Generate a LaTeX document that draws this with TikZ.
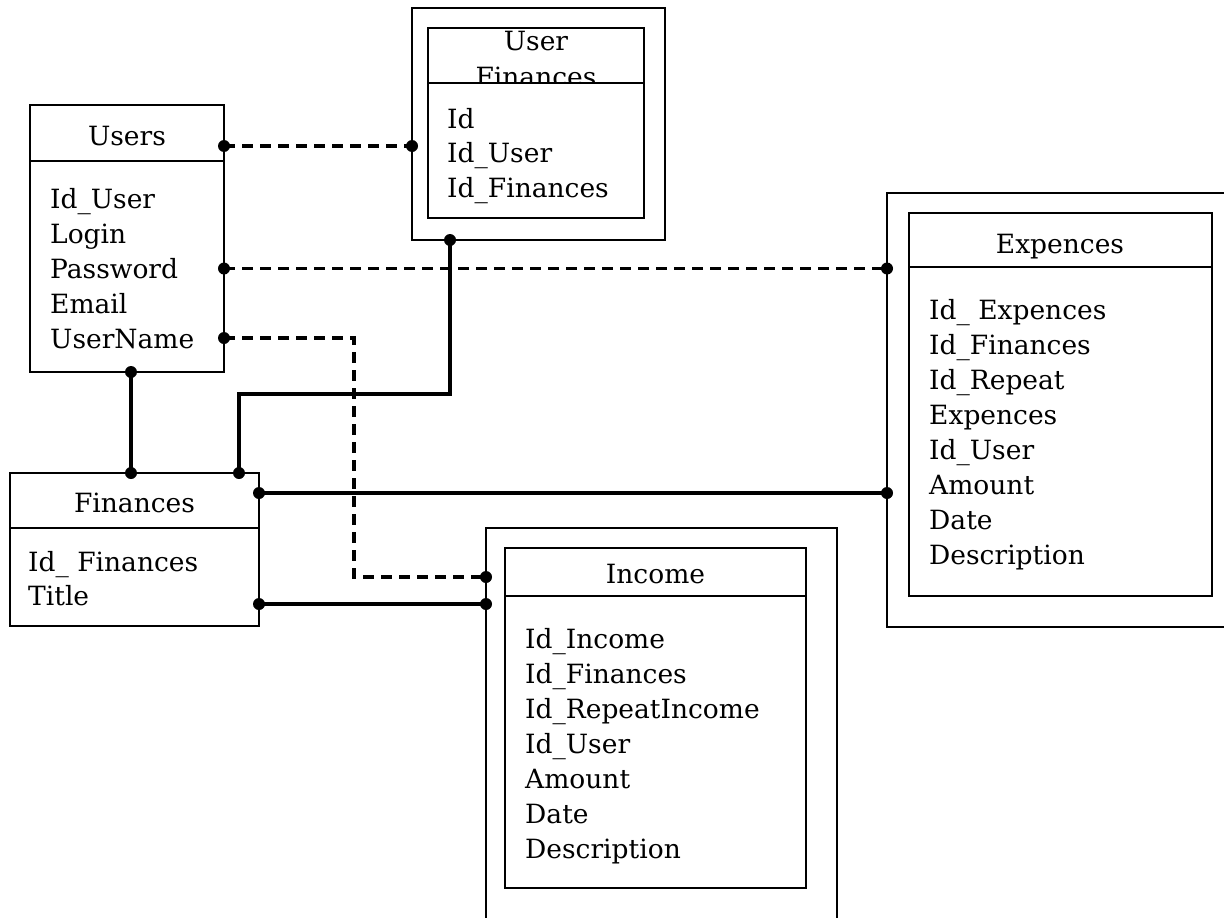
\documentclass[tikz,border=0pt]{standalone}
\usepackage{fontspec}
\setmainfont{DejaVu Serif}
\usetikzlibrary{calc}
\newcommand\fsz{\fontsize{26.5}{35}\selectfont}
\tikzset{
  x=1pt, y=-1pt,
  box/.style={draw, line width=1.4pt, inner sep=0pt, outer sep=0pt, anchor=north west},
  rule/.style={line width=1.4pt},
  fld/.style={anchor=base west, inner sep=0pt, font=\fsz},
  ttl/.style={anchor=base, inner sep=0pt, font=\fsz},
  conn/.style={line width=3.1pt},
  dconn/.style={line width=3.2pt, dash pattern=on 11pt off 7pt},
  dotc/.style={fill=black},
}
\begin{document}
\begin{tikzpicture}
\useasboundingbox (0,0) rectangle (1224,918);
\clip (0,0) rectangle (1224,918);

% ---------- Users ----------
\node[box, minimum width=194pt, minimum height=267pt] (users) at (30,105) {};
\draw[rule] (users.west |- 0,161) -- (users.east |- 0,161);
\node[ttl] (usersT) at (127,145) {Users};
\foreach \t [count=\i] in {Id\_User, Login, Password, Email, UserName}
  \node[fld] (usersF\i) at (50,{208+35*(\i-1)}) {\t};

% ---------- User Finances ----------
\node[box, minimum width=253pt, minimum height=232pt] (ufo) at (412,8) {};
\node[box, minimum width=216pt, minimum height=190pt] (uf) at (428,28) {};
\draw[rule] (uf.west |- 0,83) -- (uf.east |- 0,83);
\begin{scope}
  \clip (428,28) rectangle (644,82.4);
  \node[ttl] (ufT1) at (536,50) {User};
  \node[ttl] (ufT2) at (536,86) {Finances};
\end{scope}
\foreach \t [count=\i] in {Id, Id\_User, Id\_Finances}
  \node[fld] (ufF\i) at (447,{128+34.5*(\i-1)}) {\t};

% ---------- Finances ----------
\node[box, minimum width=249pt, minimum height=153pt] (fin) at (10,473) {};
\draw[rule] (fin.west |- 0,528) -- (fin.east |- 0,528);
\node[ttl] (finT) at (134.5,512) {Finances};
\foreach \t [count=\i] in {Id\_ Finances, Title}
  \node[fld] (finF\i) at (28,{571+34*(\i-1)}) {\t};

% ---------- Expences ----------
\node[box, minimum width=360pt, minimum height=434pt] (expo) at (887,193) {};
\node[box, minimum width=303pt, minimum height=383pt] (exp) at (909,213) {};
\draw[rule] (exp.west |- 0,267) -- (exp.east |- 0,267);
\node[ttl] (expT) at (1060,253) {Expences};
\foreach \t [count=\i] in {Id\_ Expences, Id\_Finances, Id\_Repeat, Expences, Id\_User, Amount, Date, Description}
  \node[fld] (expF\i) at (929,{319+35.1*(\i-1)}) {\t};

% ---------- Income ----------
\node[box, minimum width=351pt, minimum height=420pt] (inco) at (486,528) {};
\node[box, minimum width=301pt, minimum height=340pt] (inc) at (505,548) {};
\draw[rule] (inc.west |- 0,596) -- (inc.east |- 0,596);
\node[ttl] (incT) at (655.5,583) {Income};
\foreach \t [count=\i] in {Id\_Income, Id\_Finances, Id\_RepeatIncome, Id\_User, Amount, Date, Description}
  \node[fld] (incF\i) at (525,{648+35*(\i-1)}) {\t};

% ---------- connection points ----------
\coordinate (uh) at (users.east |- 0,146);
\coordinate (up) at (users.east |- 0,268.5);
\coordinate (un) at (users.east |- 0,338);
\coordinate (ub) at (131,372);
\coordinate (fl) at (ufo.west |- 0,146);
\coordinate (fb) at (450,240);
\coordinate (nt1) at (131,473);
\coordinate (nt2) at (239,473);
\coordinate (nr1) at (fin.east |- 0,493);
\coordinate (nr2) at (fin.east |- 0,604);
\coordinate (e1) at (expo.west |- 0,268.5);
\coordinate (e2) at (expo.west |- 0,493);
\coordinate (i1) at (inco.west |- 0,577);
\coordinate (i2) at (inco.west |- 0,604);
\coordinate (k1) at (354,338);
\coordinate (k2) at (239,394);

% ---------- connectors ----------
\draw[dconn] (uh) -- (fl);
\draw[dconn] (up) -- (e1);
\draw[dconn] (un) -- (k1) |- (i1);
\draw[conn] (ub) -- (nt1);
\draw[conn] (nt2) -- (k2) -| (fb);
\draw[conn] (nr1) -- (e2);
\draw[conn] (nr2) -- (i2);

\foreach \p in {uh,up,un,ub,fl,fb,nt1,nt2,nr1,nr2,e1,e2,i1,i2}
  \fill[dotc] (\p) circle (6pt);
\end{tikzpicture}
\end{document}
